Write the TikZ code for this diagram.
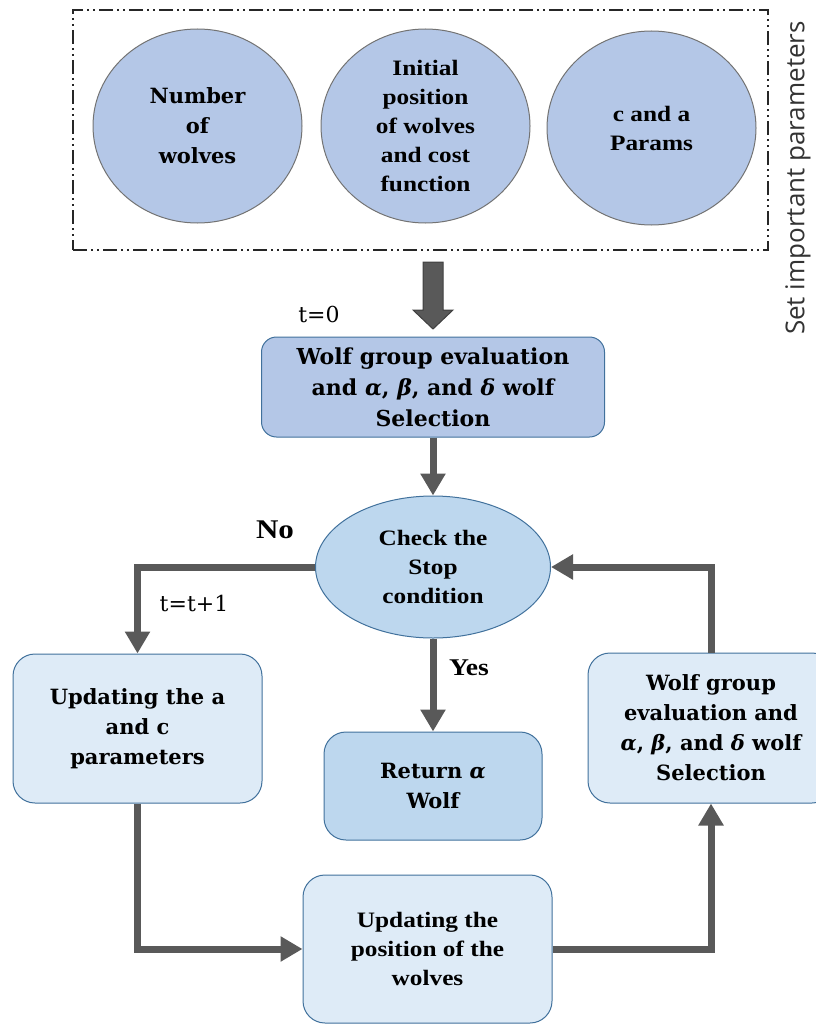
\documentclass[tikz,border=0pt]{standalone}
\usepackage{fontspec}
\setmainfont{DejaVu Serif}
\newfontfamily\narrowserif[FakeStretch=1.15]{Liberation Serif}
\newfontfamily\labelsans{Open Sans}
\usetikzlibrary{shapes.geometric, arrows.meta, positioning, calc}

\definecolor{parblue}{HTML}{B4C7E7}
\definecolor{midblue}{HTML}{BDD7EE}
\definecolor{paleblue}{HTML}{DEEBF7}
\definecolor{edgeblue}{HTML}{41719C}
\definecolor{flowgray}{HTML}{595959}

\tikzset{
  widetext/.style={font=\fontsize{21}{30}\selectfont\bfseries, align=center},
  narrowtext/.style={font=\narrowserif\fontsize{22}{29}\selectfont\bfseries, align=center},
  param/.style={ellipse, draw=black!55, line width=1pt, fill=parblue, minimum width=209pt, minimum height=194pt, inner sep=0pt},
  stepbox/.style={rectangle, rounded corners=22pt, draw=edgeblue, line width=1pt, fill=paleblue, inner sep=0pt, widetext},
  flow/.style={line width=7pt, draw=flowgray, -{Triangle[length=22pt,width=24pt]}},
  tlabel/.style={font=\fontsize{22}{26}\selectfont}
}

\begin{document}
\begin{tikzpicture}[x=1pt, y=-1pt]
\useasboundingbox (0,0) rectangle (815,1025);

% Parameter group
\node[draw=black!85, line width=1.3pt, dash pattern=on 14pt off 4pt on 2pt off 4pt on 2pt off 4pt,
      minimum width=695pt, minimum height=240pt] (setbox) at (420.5,130) {};
\node[param, widetext] (num) at (197.5,126) {Number\\of\\wolves};
\node[param, narrowtext] (init) at (425.5,126) {Initial\\position\\of wolves\\and cost\\function};
\node[param, narrowtext] (cpar) at (651.5,128) {c and a\\Params};
\node[rotate=90, text=black!80, font=\labelsans\fontsize{26}{30}\selectfont] (setlbl) at (798,178) {Set important parameters};

% Initialisation
\draw[fill=flowgray, draw=black!75, line width=1pt]
  (423,262) -- (443,262) -- (443,310) -- (453,310) -- (433,329) -- (413,310) -- (423,310) -- cycle;
\node[tlabel] (tzero) at (319,314) {t=0};
\node[stepbox, fill=parblue, rounded corners=15pt, minimum width=343pt, minimum height=100pt,
      font=\fontsize{22}{31}\selectfont\bfseries] (eval) at (433,387)
      {Wolf group evaluation\\and \textit{α}, \textit{β}, and \textit{δ} wolf\\Selection};

% Loop
\node[ellipse, draw=edgeblue, line width=1pt, fill=midblue, minimum width=235pt, minimum height=142pt,
      inner sep=0pt, narrowtext] (check) at (433,567) {Check the\\Stop\\condition};
\node[stepbox, minimum width=249pt, minimum height=149pt] (upd) at (137.5,728.5) {Updating the a\\and c\\parameters};
\node[stepbox, fill=midblue, minimum width=218pt, minimum height=108pt] (ret) at (433,786) {Return \textit{α}\\Wolf};
\node[stepbox, minimum width=246pt, minimum height=150pt] (sel) at (711,728)
      {Wolf group\\evaluation and\\\textit{α}, \textit{β}, and \textit{δ} wolf\\Selection};
\node[stepbox, narrowtext, minimum width=249pt, minimum height=148pt] (pos) at (427.5,949)
      {Updating the\\position of the\\wolves};

% Labels
\node[font=\narrowserif\fontsize{27}{30}\selectfont\bfseries] (nolbl) at (275,530) {No};
\node[tlabel] (tinc) at (194,603) {t=t+1};
\node[font=\narrowserif\fontsize{24}{28}\selectfont\bfseries] (yeslbl) at (469,668) {Yes};

% Connectors
\draw[flow] (eval) -- (check);
\draw[flow] (check.west) -| (upd.north);
\draw[flow] (check.south) -- (ret.north);
\draw[flow] (upd.south) |- (pos.west);
\draw[flow] (pos.east) -| (sel.south);
\draw[flow] (sel.north) |- (check.east);
\end{tikzpicture}
\end{document}
